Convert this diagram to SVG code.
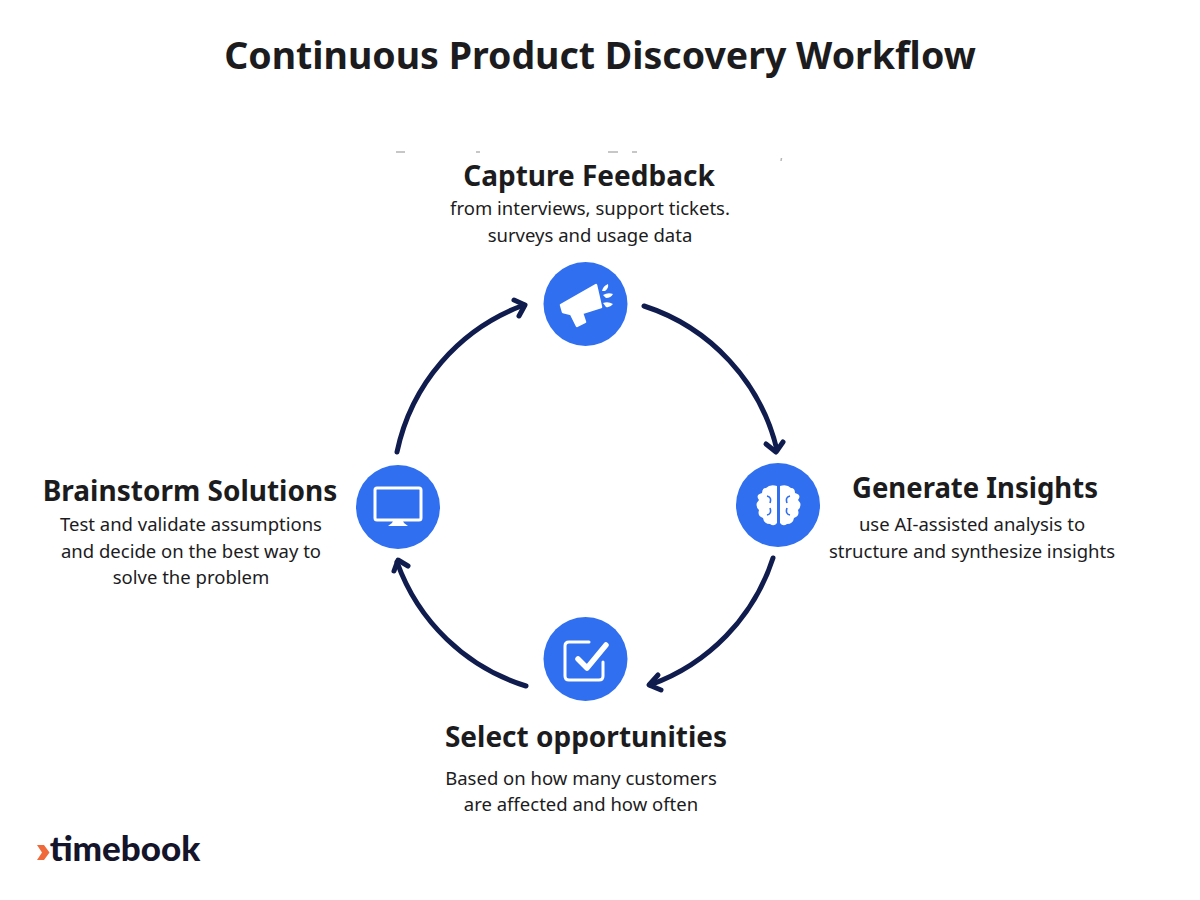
<svg xmlns="http://www.w3.org/2000/svg" width="1200" height="900" viewBox="0 0 1200 900">
<style>
text{font-family:"Noto Sans","Open Sans","Liberation Sans",sans-serif;fill:#1c1c1e;text-anchor:middle}
.h{font-size:28px;font-weight:700}
.b{font-size:18.500px;font-weight:400}
.t{font-size:37.500px;font-weight:700}
.disc{fill:#2f6ff0}
.w{fill:#fff}
.ws{fill:none;stroke:#fff;stroke-linejoin:round;stroke-linecap:round}
.arc{fill:none;stroke:#0f1c4d;stroke-width:5;stroke-linecap:round}
.head{fill:none;stroke:#0f1c4d;stroke-width:5;stroke-linecap:round;stroke-linejoin:round}
.sp{stroke:#b5b5b5;stroke-width:1.500;fill:none}
</style>
<rect width="1200" height="900" fill="#fff"/>
<text class="t" x="600" y="69">Continuous Product Discovery Workflow</text>
<g id="scan-marks">
<path class="sp" d="M396 152h9M476 152h4M608 152h10M632 152h5"/>
<path class="sp" d="M781 161l.5-3"/>
</g>
<g id="connectors">
<path class="arc" d="M644 306A200 200 0 0 1 777 450"/>
<path class="head" d="M766 444L776 452L783 442"/>
<path class="arc" d="M773 558A200 200 0 0 1 650 685"/>
<path class="head" d="M658 675L649 685L661 690"/>
<path class="arc" d="M526 686A200 200 0 0 1 397 562"/>
<path class="head" d="M394 571L398 560L408 566"/>
<path class="arc" d="M397 452A200 200 0 0 1 524 305"/>
<path class="head" d="M514 300L525 305L519 316"/>
</g>
<g id="capture-feedback">
<circle class="disc" cx="585.5" cy="304" r="42"/>
<path class="w" stroke="#fff" stroke-width="2.500" stroke-linejoin="round" d="M561 305L596 285L601 307L582 313L585 322L577 326L571 314L563 312Z"/>
<path class="w" d="M602 291Q603 286 608 284Q609 288 605 291ZM603 295Q608 292 613 294Q611 298 606 298ZM603 303Q608 301 613 304Q610 308 606 307Z"/>
<text class="h" x="589" y="186">Capture Feedback</text>
<text class="b" x="590" y="215">from interviews, support tickets.</text>
<text class="b" x="590" y="242">surveys and usage data</text>
</g>
<g id="generate-insights">
<circle class="disc" cx="778" cy="505" r="42"/>
<path class="w" d="M777 486Q770 484 766 488Q762 488 762 493Q755 495 759 500Q754 505 759 510Q757 516 763 518Q764 524 770 524Q774 527 777 523Z"/>
<path class="w" d="M780 486Q787 484 791 488Q795 488 795 493Q802 495 798 500Q803 505 798 510Q800 516 794 518Q793 524 787 524Q783 527 780 523Z"/>
<path d="M767 496Q772 497 770 503M767 515Q772 514 770 508M790 496Q785 497 787 503M790 515Q785 514 787 508" fill="none" stroke="#2f6ff0" stroke-width="1.600"/>
<text class="h" x="975" y="498" textLength="246" lengthAdjust="spacingAndGlyphs">Generate Insights</text>
<text class="b" x="972" y="531">use AI-assisted analysis to</text>
<text class="b" x="972" y="558">structure and synthesize insights</text>
</g>
<g id="select-opportunities">
<circle class="disc" cx="585.5" cy="659" r="42"/>
<path class="ws" stroke-width="3" d="M589 642H569Q565 642 565 646V676Q565 680 569 680H599Q603 680 603 676V662"/>
<path class="ws" stroke-width="5.500" d="M578 659L587 668L606 645"/>
<text class="h" x="586" y="747">Select opportunities</text>
<text class="b" x="581" y="785">Based on how many customers</text>
<text class="b" x="581" y="811">are affected and how often</text>
</g>
<g id="brainstorm-solutions">
<circle class="disc" cx="398" cy="507" r="42"/>
<rect class="ws" stroke-width="3" x="375" y="488" width="46" height="32" rx="2"/>
<path class="w" d="M393 521H403L404 523L408 526H388L392 523Z"/>
<text class="h" x="190" y="501">Brainstorm Solutions</text>
<text class="b" x="191" y="531">Test and validate assumptions</text>
<text class="b" x="191" y="558">and decide on the best way to</text>
<text class="b" x="191" y="584">solve the problem</text>
</g>
<g id="timebook-logo">
<path d="M37 845H44L49.500 852.500L44 860H37L42 852.500Z" fill="#f0693a"/>
<text x="125" y="861" style="font-family:Lato,'Liberation Sans',sans-serif;font-size:35px;font-weight:900;fill:#14142b">timebook</text>
</g>
</svg>
